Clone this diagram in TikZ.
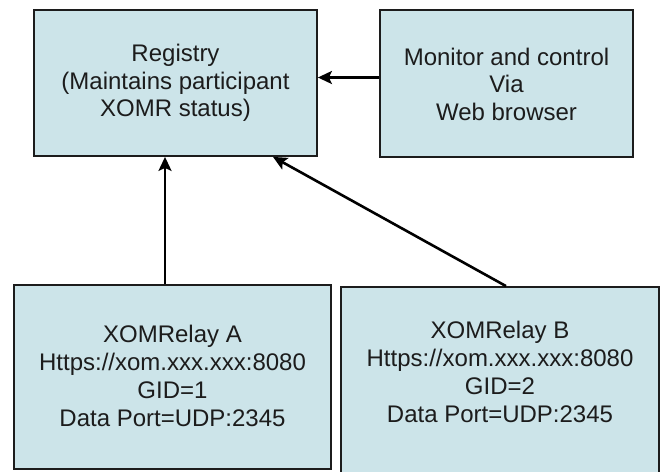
\documentclass[tikz,border=0pt]{standalone}
\usepackage{fontspec}
\setmainfont{Liberation Sans}
\usetikzlibrary{arrows.meta}
\definecolor{boxfill}{RGB}{204,228,233}
\definecolor{ink}{RGB}{28,28,28}
\begin{document}
\begin{tikzpicture}[x=1pt,y=-1pt,
  box/.style={draw=ink, line width=1.8pt, fill=boxfill, inner sep=0pt},
  txt/.style={align=center, font=\fontsize{24}{27.5}\selectfont, text=ink, inner sep=0pt},
  arr/.style={draw=black, line width=2.6pt, -{Stealth[length=14pt,width=13pt,inset=3pt]}}]
\useasboundingbox (0,0) rectangle (661,471);
\clip (0,0) rectangle (661,471);
% boxes
\node[box, minimum width=283pt, minimum height=146pt] (reg)  at (175.5,83) {};
\node[box, minimum width=253pt, minimum height=147pt] (mon)  at (506.5,83.5) {};
\node[box, minimum width=317pt, minimum height=184pt] (relA) at (172.5,377) {};
\node[box, minimum width=318pt, minimum height=187pt] (relB) at (500,380.5) {};
% texts
\node[txt] (regT) at (175.5,83) {Registry\\(Maintains participant\\XOMR status)};
\node[txt] (monT) at (506.5,84) {Monitor and control\\Via\\Web browser};
\node[txt, font=\fontsize{24}{28}\selectfont] (relAT) at (172.5,376) {XOMRelay A\\Https://xom.xxx.xxx:8080\\GID=1\\Data Port=UDP:2345};
\node[txt, font=\fontsize{24}{28}\selectfont] (relBT) at (500,371.5) {XOMRelay B\\Https://xom.xxx.xxx:8080\\GID=2\\Data Port=UDP:2345};
% connectors
\draw[arr] (mon.west |- 0,77.5) -- (reg.east |- 0,77.5);
\draw[arr] (relA.north -| 165,0) -- (reg.south -| 165,0);
\draw[arr] (relB.north -| 506,0) -- (reg.south -| 273,0);
\end{tikzpicture}
\end{document}
